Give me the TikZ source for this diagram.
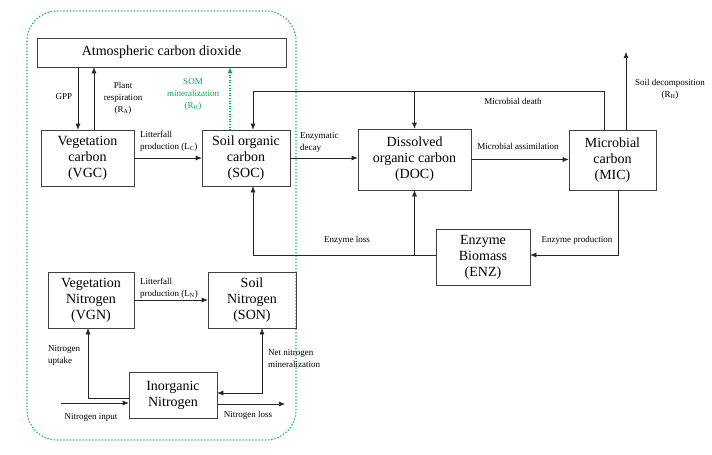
\documentclass[tikz,border=0pt]{standalone}
\usepackage{fontspec}
\setmainfont{Liberation Serif}
\usepackage{tikz}
\usetikzlibrary{arrows.meta,calc,positioning}
\definecolor{somgreen}{RGB}{0,176,80}
\tikzset{%
	pool/.style    = {draw=black!75, line width=0.6pt, rectangle, align=center, inner sep=0pt, font=\fontsize{14}{16}\selectfont},
	lbl/.style     = {inner sep=0pt, align=center, font=\fontsize{9}{12}\selectfont},
	flow/.style    = {line width=0.6pt, draw=black!85, -{Latex[length=6pt,width=5pt]}},
	flowtwo/.style = {line width=0.6pt, draw=black!85, {Latex[length=6pt,width=5pt]}-{Latex[length=6pt,width=5pt]}},
	bound/.style   = {draw=somgreen, line width=1.2pt, dotted, rounded corners=30pt},
}
\begin{document}
\begin{tikzpicture}[x=1pt,y=-1pt]
		\useasboundingbox (0,0) rectangle (712,455);
		\draw[bound] (27,11) rectangle (296,440);
		
		% carbon pools
		\node[pool, minimum width=249pt, minimum height=29pt] (atm) at (161.5,52.5) {Atmospheric carbon dioxide};
		\node[pool, minimum width=93pt, minimum height=56pt] (vgc) at (87.5,158) {Vegetation\\carbon\\(VGC)};
		\node[pool, minimum width=88pt, minimum height=56pt] (soc) at (246,158) {Soil organic\\carbon\\(SOC)};
		\node[pool, minimum width=113pt, minimum height=61pt] (doc) at (414.5,159.5) {Dissolved\\organic carbon\\(DOC)};
		\node[pool, minimum width=87pt, minimum height=60pt] (mic) at (612.5,160) {Microbial\\carbon\\(MIC)};
		\node[pool, minimum width=94pt, minimum height=56pt] (enz) at (483,257) {Enzyme\\Biomass\\(ENZ)};
		
		% nitrogen pools
		\node[pool, minimum width=86pt, minimum height=56pt] (vgn) at (91,300) {Vegetation\\Nitrogen\\(VGN)};
		\node[pool, minimum width=88pt, minimum height=56pt] (son) at (252,300) {Soil\\Nitrogen\\(SON)};
		\node[pool, minimum width=88pt, minimum height=46pt] (inn) at (173,395) {Inorganic\\Nitrogen};
		
		\coordinate (gpp) at (78,100);
		\coordinate (ra) at (94,100);
		\coordinate (som) at (230,100);
		\coordinate (mdR) at (604,91);
		\coordinate (mdL) at (253,91);
		\coordinate (rh) at (626,52);
		\coordinate (ep) at (618,255);
		\coordinate (el) at (253,255);
		\coordinate (nu) at (88,398);
		\coordinate (nin) at (61,403);
		\coordinate (nm) at (262,393);
		\coordinate (nl) at (285,404);
		
		\draw[flow] (atm.south -| gpp) -- (vgc.north -| gpp);
		\draw[flow] (vgc.north -| ra) -- (atm.south -| ra);
		\draw[flow, draw=somgreen, fill=somgreen, dotted, line width=1.1pt] (soc.north -| som) -- (atm.south -| som);
		\draw[flow] (vgc.east) -- (vgc.east -| soc.west);
		\draw[flow] (soc.east) -- (soc.east -| doc.west);
		\draw[flow] (doc.east) -- (doc.east -| mic.west);
		\draw[flow] (mic.north -| mdR) -- (mdR) -- (mdL) -- (soc.north -| mdL);
		\draw[flow] (doc.north |- mdL) -- (doc.north);
		\draw[flow] (mic.north -| rh) -- (rh);
		\draw[flow] (mic.south -| ep) -- (ep) -- (enz.east |- ep);
		\draw[flow] (enz.west |- el) -- (el) -- (soc.south -| el);
		\draw[flow] (doc.south |- el) -- (doc.south);
		
		\draw[flow] (vgn.east) -- (vgn.east -| son.west);
		\draw[flow] (inn.west |- nu) -- (nu) -- (vgn.south -| nu);
		\draw[flow] (nin) -- (inn.west |- nin);
		\draw[flowtwo] (son.south -| nm) -- (nm) -- (inn.east |- nm);
		\draw[flow] (inn.east |- nl) -- (nl);
		
		% flux labels
		\node[lbl] (lgpp) at (64,97) {GPP};
		\node[lbl] (lra) at (123,98) {Plant\\respiration\\(R\textsubscript{A})};
		\node[lbl, text=somgreen] (lsom) at (193,94) {SOM\\mineralization\\(R\textsubscript{H})};
		\node[lbl, align=left, anchor=west] (llc) at (140,141) {Litterfall\\production (L\textsubscript{C})};
		\node[lbl, align=left, anchor=west] (lenzd) at (300,142) {Enzymatic\\decay};
		\node[lbl] (lmd) at (513,101) {Microbial death};
		\node[lbl] (lma) at (518,146) {Microbial assimilation};
		\node[lbl] (lrh) at (670,89.5) {Soil decomposition\\(R\textsubscript{H})};
		\node[lbl] (lel) at (347,240) {Enzyme loss};
		\node[lbl] (lep) at (577,240) {Enzyme production};
		\node[lbl, align=left, anchor=west] (lln) at (140,288.5) {Litterfall\\production (L\textsubscript{N})};
		\node[lbl, align=left, anchor=west] (lnu) at (48,355) {Nitrogen\\uptake};
		\node[lbl, align=left, anchor=west] (lnm) at (268,359) {Net nitrogen\\mineralization};
		\node[lbl] (lnin) at (91,417) {Nitrogen input};
		\node[lbl] (lnl) at (248,415) {Nitrogen loss};
\end{tikzpicture}
\end{document}
